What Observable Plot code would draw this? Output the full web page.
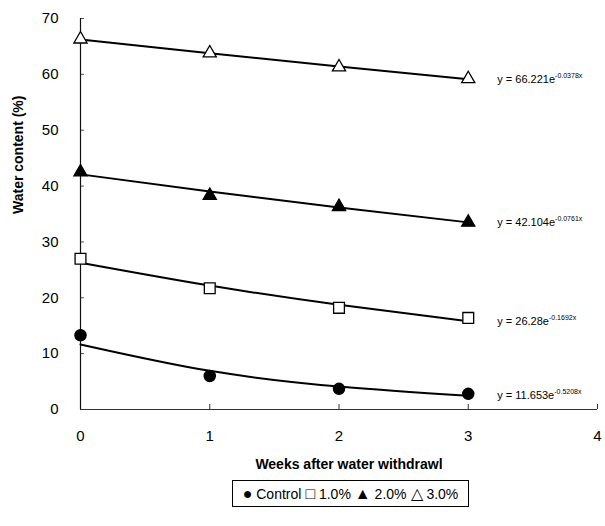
<!DOCTYPE html>
<html><head><meta charset="utf-8">
<script src="https://cdn.jsdelivr.net/npm/d3@7"></script>
<script src="https://cdn.jsdelivr.net/npm/@observablehq/plot@0.6"></script>
<style>
body{margin:0;background:#fff;font-family:"Liberation Sans",Arial,sans-serif;}
#wrap{position:relative;width:605px;height:526px;}
#legend{position:absolute;left:232px;top:480px;width:237px;height:27px;border:1px solid #000;box-sizing:border-box;font-size:14px;display:flex;align-items:center;justify-content:center;white-space:nowrap;color:#000;}
#legend span{margin:0 2px;}
#legend b{font-weight:normal;font-size:16px;}
</style></head>
<body><div id="wrap"><div id="chart"></div><div id="legend"></div></div>
<script>
const weeks = [0, 1, 2, 3];
const seriesNames = ["Control", "1.0%", "2.0%", "3.0%"];
const controlVals = [13.3, 6.0, 3.7, 2.8];
const pct1Vals = [27.0, 21.7, 18.2, 16.4];
const pct2Vals = [42.5, 38.3, 36.3, 33.5];
const pct3Vals = [66.3, 63.8, 61.3, 59.2];
// exponential trend line at each week
const controlTrend = [11.65, 6.92, 4.11, 2.44];
const pct1Trend = [26.28, 22.19, 18.74, 15.82];
const pct2Trend = [42.10, 39.02, 36.15, 33.50];
const pct3Trend = [66.22, 63.77, 61.40, 59.12];
const equations = ["y = 11.653e^-0.5208x", "y = 26.28e^-0.1692x", "y = 42.104e^-0.0761x", "y = 66.221e^-0.0378x"];
const legendGlyphs = ["\u25CF", "\u25A1", "\u25B2", "\u25B3"];
const xTicks = [0, 1, 2, 3, 4];
const yTicks = [0, 10, 20, 30, 40, 50, 60, 70];
const xLabel = "Weeks after water withdrawl";
const yLabel = "Water content (%)";

const valsBySeries = [controlVals, pct1Vals, pct2Vals, pct3Vals];
const trendBySeries = [controlTrend, pct1Trend, pct2Trend, pct3Trend];
const points = [], trend = [], eqs = [];
seriesNames.forEach((s, i) => {
  weeks.forEach((w, j) => {
    points.push({series: s, week: w, value: valsBySeries[i][j]});
    trend.push({series: s, week: w, value: trendBySeries[i][j]});
  });
  eqs.push({series: s, week: weeks[weeks.length - 1], value: trendBySeries[i][weeks.length - 1], text: equations[i]});
});
const symbolOf = {"Control": "circle", "1.0%": "square", "2.0%": "triangle", "3.0%": "triangle"};
const fillOf = {"Control": "black", "1.0%": "white", "2.0%": "black", "3.0%": "white"};
const rOf = {"Control": 5.6, "1.0%": 6.1, "2.0%": 4.9, "3.0%": 4.9};

const chart = Plot.plot({
  width: 605,
  height: 478,
  marginLeft: 80,
  marginRight: 8,
  marginTop: 18,
  marginBottom: 69,
  style: {fontFamily: '"Liberation Sans", Arial, sans-serif', fontSize: "15px", color: "#000", background: "#fff"},
  x: {domain: [0, 4]},
  y: {domain: [0, 70]},
  r: {type: "identity"},
  symbol: {type: "identity"},
  color: {type: "identity"},
  marks: [
    Plot.axisX({ticks: xTicks, tickFormat: d => String(d), tickSize: 0, tickPadding: 21, label: null, fontSize: 15}),
    Plot.axisX({ticks: xTicks, tickSize: -5, text: null, label: null, stroke: "#333"}),
    Plot.axisY({ticks: yTicks, tickFormat: d => String(d), tickSize: 0, tickPadding: 22, label: null, fontSize: 15}),
    Plot.axisY({ticks: yTicks, tickSize: -4, text: null, label: null, stroke: "#555"}),
    Plot.ruleY([0], {stroke: "#333", strokeWidth: 1.2}),
    Plot.ruleX([0], {y1: 0, y2: 70, stroke: "#111", strokeWidth: 1.2}),
    Plot.line(trend, {x: "week", y: "value", z: "series", curve: "natural", stroke: "#000", strokeWidth: 2}),
    Plot.dot(points, {x: "week", y: "value", symbol: d => symbolOf[d.series], fill: d => fillOf[d.series], r: d => rOf[d.series], stroke: "#000", strokeWidth: 1.3}),
    Plot.text(eqs, {x: "week", y: "value", text: "text", textAnchor: "start", dx: 29, fontSize: 11, className: "eq", fill: "#000"}),
    Plot.text([xLabel], {frameAnchor: "bottom", dy: 59, dx: 10, fontWeight: "bold", fontSize: 14, fill: "#000"}),
    Plot.text([yLabel], {frameAnchor: "left", dx: -62, rotate: -90, fontWeight: "bold", fontSize: 14, fill: "#000"})
  ]
});
document.getElementById("chart").appendChild(chart);

// render superscript exponents in the equation labels
chart.querySelectorAll(".eq text").forEach(t => {
  const parts = t.textContent.split("^");
  if (parts.length === 2) {
    t.textContent = parts[0];
    const sup = document.createElementNS("http://www.w3.org/2000/svg", "tspan");
    sup.setAttribute("dy", "-5");
    sup.setAttribute("font-size", "7");
    sup.textContent = parts[1];
    t.appendChild(sup);
  }
});

const legend = document.getElementById("legend");
seriesNames.forEach((s, i) => {
  const span = document.createElement("span");
  const g = document.createElement("b");
  g.textContent = legendGlyphs[i];
  span.appendChild(g);
  span.appendChild(document.createTextNode(" " + s));
  legend.appendChild(span);
});
</script>
</body></html>
